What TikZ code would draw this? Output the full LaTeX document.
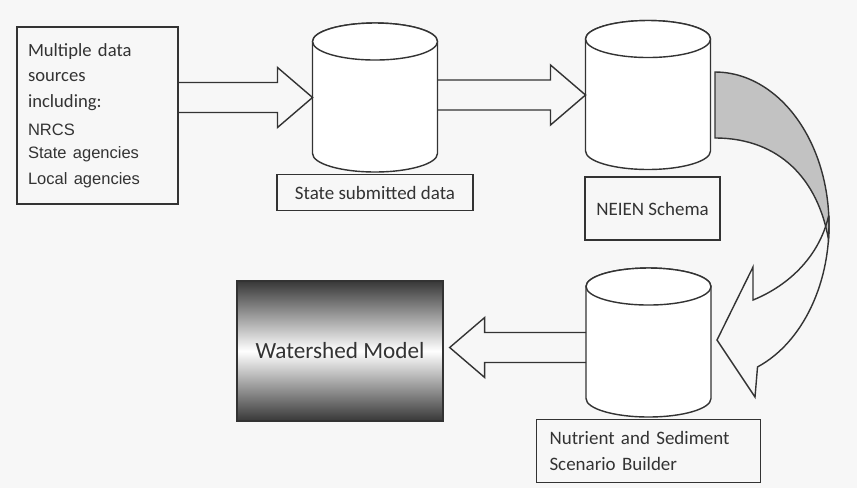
\documentclass[tikz,border=0pt]{standalone}
\usepackage{fontspec}
\setmainfont{Carlito}
\newfontfamily\arialfont{Liberation Sans}
\usetikzlibrary{positioning}
\usetikzlibrary{calc}
\definecolor{ink}{rgb}{0.2,0.2,0.2}
\definecolor{paper}{rgb}{0.97,0.97,0.97}
\definecolor{bandgray}{rgb}{0.76,0.76,0.76}
\definecolor{dark}{rgb}{0.22,0.22,0.22}

% database drum on a db node
\newcommand{\drawdb}[1]{%
  \filldraw[dbline] (#1.north west) -- (#1.south west)
    arc[start angle=180, end angle=360, x radius=1.25cm, y radius=0.37cm]
    -- (#1.north east)
    arc[start angle=0, end angle=180, x radius=1.25cm, y radius=0.37cm] -- cycle;
  \draw[dbline] (#1.north) ellipse[x radius=1.25cm, y radius=0.37cm];}

% block arrow: tail, tip, direction (1 right, -1 left)
\newcommand{\fatarrow}[3]{%
  \draw[blockarrow] ($(#1)+(0,-15)$) -- ($(#2)+({-35*#3},-15)$)
    -- ($(#2)+({-35*#3},-30)$) -- (#2) -- ($(#2)+({-35*#3},30)$)
    -- ($(#2)+({-35*#3},15)$) -- ($(#1)+(0,15)$);}

\begin{document}
\begin{tikzpicture}[x=0.02cm, y=-0.02cm,
  box/.style = {draw=ink, line width=0.8pt, inner sep=0pt, text=ink,
    font=\fontsize{10.8}{14.7}\selectfont},
  db/.style = {inner sep=0pt, outer sep=0pt, minimum width=2.5cm, minimum height=2.24cm},
  dbline/.style = {draw=ink, line width=0.8pt, fill=white},
  blockarrow/.style = {draw=ink, line width=0.8pt, line join=miter},
  band/.style = {draw=ink, line width=0.8pt},
]

  \fill[paper] (0,0) rectangle (857,488);
  \useasboundingbox (0,0) rectangle (857,488);

  \node[box, minimum width=3.22cm, minimum height=3.54cm, align=left,
    inner xsep=0.22cm, text width=2.78cm] (src) at (97.5,115.5)
    {\fontsize{10.6}{14.7}\selectfont Multiple data\\ sources\\ including:\\[3pt]
     \arialfont\fontsize{9.4}{13}\selectfont NRCS\\ State agencies\\ Local agencies};

  \node[db] (db1) at (375,97.5) {};
  \node[db] (db2) at (648,95) {};
  \node[db] (db3) at (648.5,342.5) {};

  \drawdb{db1}
  \drawdb{db2}
  \drawdb{db3}

  \node[box, below=0.41cm of db1, minimum width=3.92cm, minimum height=0.72cm] (lab1)
    {State submitted data};
  \node[box, below=0.51cm of db2, xshift=0.09cm, minimum width=2.7cm,
    minimum height=1.26cm] (lab2) {NEIEN Schema};
  \node[box, below=0.41cm of db3, minimum width=4.48cm, minimum height=1.26cm,
    text width=3.96cm, inner xsep=0.26cm, align=left] (lab3)
    {Nutrient and Sediment\\Scenario Builder};

  \node[box, top color=dark, bottom color=dark, middle color=white,
    minimum width=4.12cm, minimum height=2.8cm,
    font=\fontsize{13.2}{16}\selectfont] (wsm) at (340,351) {Watershed Model};

  % straight block arrows
  \coordinate (a1) at (src.east |- db1.west);
  \coordinate (a2) at (db1.east |- db2.west);
  \coordinate (a3) at ($(db3.west)+(0,5)$);
  \coordinate (a3tip) at ($(wsm.east |- a3)+(6,0)$);

  \fatarrow{a1}{db1.west}{1}
  \fatarrow{a2}{db2.west}{1}
  \fatarrow{a3}{a3tip}{-1}

  % curved arrow from db2 down to db3
  \filldraw[band, fill=bandgray] (715,72)
    arc[start angle=90, end angle=-5.4, x radius=2.28cm, y radius=3.06cm]
    .. controls (818,180) and (780,138) .. (715,138) -- cycle;

  \path (715,225) ++(3.7:2.28cm and 3.06cm) coordinate (bandjoin);
  \draw[band, line join=miter] (bandjoin)
    arc[start angle=3.7, end angle=-68.1, x radius=2.28cm, y radius=3.06cm]
    -- (755,397) -- (717,340) -- (753,267) -- (753,300)
    .. controls (790,285) and (820,255) .. (bandjoin);

\end{tikzpicture}
\end{document}
